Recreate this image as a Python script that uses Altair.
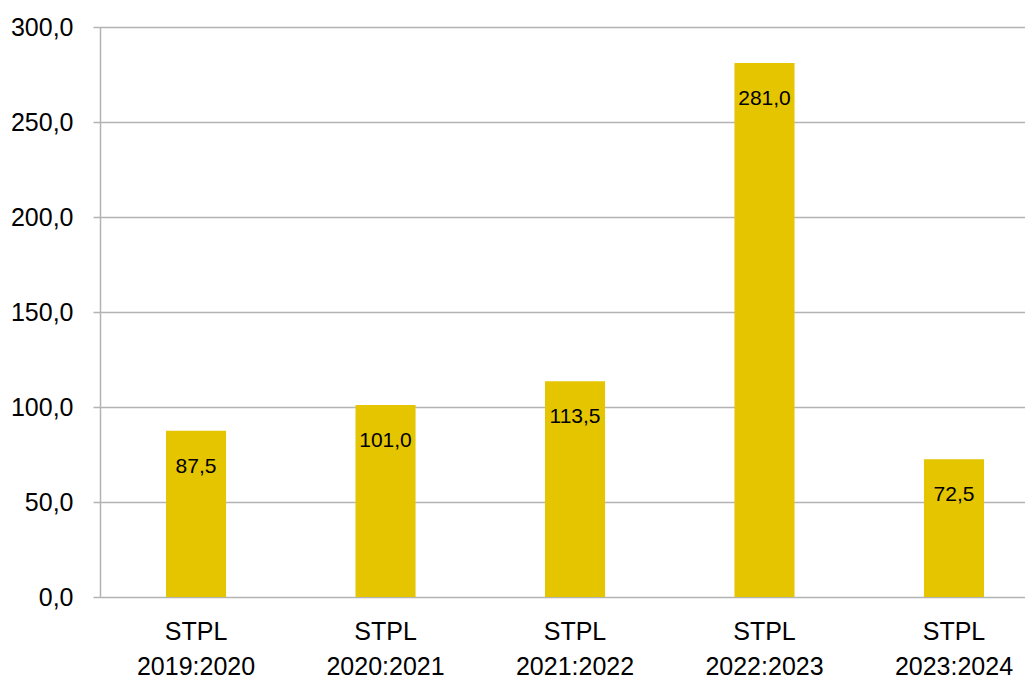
import altair as alt
import pandas as pd

categories = ["STPL 2019:2020", "STPL 2020:2021", "STPL 2021:2022", "STPL 2022:2023", "STPL 2023:2024"]
values = [87.5, 101.0, 113.5, 281.0, 72.5]

df = pd.DataFrame({"cat": categories, "val": values})

FONT = "Liberation Sans"
BAR = "#E5C500"
GRID = "#B3B3B3"

x = alt.X("cat:N", sort=categories, title=None,
          scale=alt.Scale(paddingInner=0.683, paddingOuter=0.2823, align=0.617),
          axis=alt.Axis(labelAngle=0, ticks=False, domain=False,
                        labelExpr="split(datum.label, ' ')",
                        labelFont=FONT, labelFontSize=25, labelColor="#000000",
                        labelLineHeight=35, labelPadding=22, labelBaseline="top"))
y = alt.Y("val:Q", title=None,
          scale=alt.Scale(domain=[0, 300], nice=False),
          axis=alt.Axis(values=[0, 50, 100, 150, 200, 250, 300],
                        labelExpr="replace(format(datum.value, '.1f'), '.', ',')",
                        labelFont=FONT, labelFontSize=25, labelColor="#000000",
                        labelPadding=20, tickSize=7, tickColor=GRID, tickWidth=1.5,
                        domain=True, domainColor=GRID, domainWidth=1.5,
                        grid=True, gridColor=GRID, gridWidth=1.5))

bars = alt.Chart(df).mark_bar(color=BAR).encode(x=x, y=y)

labels = alt.Chart(df).transform_calculate(
    lab="replace(format(datum.val, '.1f'), '.', ',')"
).mark_text(font=FONT, fontSize=21, color="#000000", dy=36, baseline="middle").encode(
    x=alt.X("cat:N", sort=categories),
    y=alt.Y("val:Q"),
    text="lab:N",
)

chart = (bars + labels).properties(
    width=925, height=570,
    autosize=alt.AutoSizeParams(type="none"),
    padding={"left": 92, "top": 19, "right": 0, "bottom": 84},
).configure_view(stroke=None).configure(background="white")

chart.save("out.html", embed_options={"renderer": "svg", "actions": False})
